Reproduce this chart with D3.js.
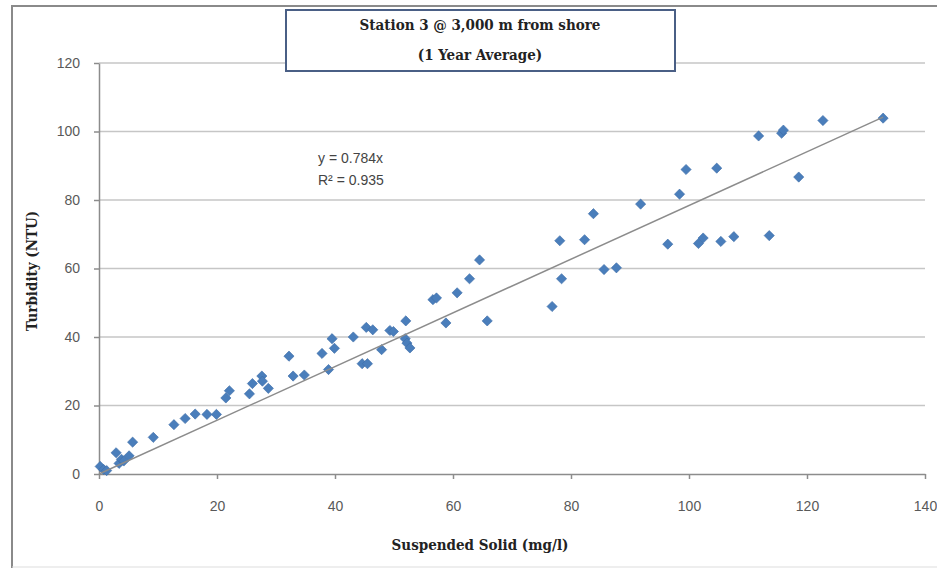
<!DOCTYPE html>
<html>
<head>
<meta charset="utf-8">
<script src="https://cdn.jsdelivr.net/npm/d3@7"></script>
<style>
  body { margin: 0; background: #fff; }
  .tick text { font-family: "Liberation Sans", Arial, sans-serif; font-size: 14px; fill: #595959; }
</style>
</head>
<body>
<script>
// Suspended solid (mg/l) readings
var solids = [0.2, 0.8, 1.3, 2.9, 3.4, 3.8, 4.2, 5.1, 5.7, 9.2, 12.7, 14.6, 16.3, 18.3, 19.9, 21.5, 22.1,
  25.5, 26.0, 27.6, 27.7, 28.7, 32.2, 32.9, 34.8, 37.8, 38.9, 39.5, 39.9, 43.1, 44.6, 45.5, 45.3, 46.4,
  47.9, 49.3, 49.9, 52.0, 51.9, 52.2, 52.7, 56.6, 57.2, 58.8, 60.7, 62.8, 64.5, 65.8,
  76.8, 78.1, 78.4, 82.3, 83.8, 85.6, 87.7, 91.8, 96.4, 98.4, 99.5, 101.6, 102.4, 104.7, 105.4, 107.6,
  111.8, 113.6, 115.7, 116.0, 118.6, 122.7, 132.9];
// Turbidity (NTU) readings, same order
var turbidity = [2.2, 1.3, 1.0, 6.2, 3.1, 4.3, 3.8, 5.3, 9.3, 10.7, 14.4, 16.2, 17.5, 17.4, 17.4, 22.2, 24.3,
  23.4, 26.4, 28.6, 27.1, 25.0, 34.4, 28.6, 28.9, 35.2, 30.5, 39.5, 36.7, 40.0, 32.2, 32.2, 42.8, 42.1,
  36.3, 41.9, 41.6, 44.7, 39.5, 38.2, 36.8, 50.9, 51.4, 44.1, 52.9, 57.0, 62.5, 44.7,
  48.9, 68.1, 57.0, 68.4, 76.0, 59.7, 60.2, 78.8, 67.1, 81.7, 88.9, 67.3, 68.9, 89.3, 67.9, 69.3,
  98.7, 69.6, 99.5, 100.4, 86.7, 103.2, 103.9];
var slope = 0.784;
var xTicks = [0, 20, 40, 60, 80, 100, 120, 140];
var yTicks = [0, 20, 40, 60, 80, 100, 120];
var titleLines = ["Station 3 @ 3,000 m from shore", "(1 Year Average)"];
var xTitle = "Suspended Solid (mg/l)";
var yTitle = "Turbidity (NTU)";
var eqLines = ["y = 0.784x", "R\u00b2 = 0.935"];

var w = 937, h = 570;
var plotLeft = 99, plotRight = 925, plotTop = 63, plotBottom = 474;

var svg = d3.select("body").append("svg")
    .attr("width", w)
    .attr("height", h);

// outer frame (only left/top/bottom edges are visible in the source)
svg.append("path")
    .attr("d", "M12,568 L12,6 L937,6")
    .attr("fill", "none")
    .attr("stroke", "#8a8a8a")
    .attr("stroke-width", 2);
svg.append("line")
    .attr("x1", 12).attr("x2", w).attr("y1", 567).attr("y2", 567)
    .attr("stroke", "#ddd").attr("stroke-width", 1);

var xScale = d3.scaleLinear().domain([0, 140]).range([plotLeft, plotRight]);
var yScale = d3.scaleLinear().domain([0, 120]).range([plotBottom, plotTop]);

// horizontal gridlines
svg.append("g").selectAll("line")
    .data(yTicks.filter(function(d) { return d > 0; }))
    .enter().append("line")
    .attr("x1", plotLeft).attr("x2", plotRight)
    .attr("y1", function(d) { return yScale(d); })
    .attr("y2", function(d) { return yScale(d); })
    .attr("stroke", "#c6c6c6")
    .attr("stroke-width", 1.5);

var xAxis = d3.axisBottom(xScale).tickValues(xTicks).tickSize(5).tickSizeOuter(0).tickPadding(22);
var yAxis = d3.axisLeft(yScale).tickValues(yTicks).tickSize(5).tickSizeOuter(0).tickPadding(14);

var gx = svg.append("g")
    .attr("class", "axis")
    .attr("transform", "translate(0," + plotBottom + ")")
    .call(xAxis);
var gy = svg.append("g")
    .attr("class", "axis")
    .attr("transform", "translate(" + plotLeft + ",0)")
    .call(yAxis);
svg.selectAll(".axis path, .axis line").attr("stroke", "#8c8c8c").attr("stroke-width", 1.5);

// points as square diamonds
var pts = d3.range(solids.length).map(function(i) { return [solids[i], turbidity[i]]; });
svg.append("g").selectAll("path")
    .data(pts)
    .enter().append("path")
    .attr("d", d3.symbol().type(d3.symbolSquare).size(52))
    .attr("transform", function(d) {
        return "translate(" + xScale(d[0]) + "," + yScale(d[1]) + ") rotate(45)";
    })
    .attr("fill", "#4a7ebb")
    .attr("stroke", "#3d6da8")
    .attr("stroke-width", 0.6);

// linear trendline through origin
var xMax = d3.max(solids);
svg.append("line")
    .attr("x1", xScale(0)).attr("y1", yScale(0))
    .attr("x2", xScale(xMax)).attr("y2", yScale(slope * xMax))
    .attr("stroke", "#8c8c8c")
    .attr("stroke-width", 1.5);

// equation label
svg.append("g").selectAll("text")
    .data(eqLines)
    .enter().append("text")
    .attr("x", 318)
    .attr("y", function(d, i) { return 163 + i * 22; })
    .attr("font-family", "Liberation Sans, Arial, sans-serif")
    .attr("font-size", 14)
    .attr("fill", "#444")
    .text(function(d) { return d; });

// title box
svg.append("rect")
    .attr("x", 286).attr("y", 10)
    .attr("width", 389).attr("height", 61)
    .attr("fill", "#fff")
    .attr("stroke", "#4a5f85")
    .attr("stroke-width", 2);
svg.append("g").selectAll("text")
    .data(titleLines)
    .enter().append("text")
    .attr("x", 480)
    .attr("y", function(d, i) { return 30 + i * 30; })
    .attr("text-anchor", "middle")
    .attr("font-family", "DejaVu Serif Condensed, DejaVu Serif, serif")
    .attr("font-weight", "bold")
    .attr("font-size", 15)
    .attr("fill", "#222")
    .text(function(d) { return d; });

// axis titles
svg.append("text")
    .attr("x", 480).attr("y", 550)
    .attr("text-anchor", "middle")
    .attr("font-family", "DejaVu Serif Condensed, DejaVu Serif, serif")
    .attr("font-weight", "bold")
    .attr("font-size", 15)
    .attr("fill", "#222")
    .text(xTitle);
svg.append("text")
    .attr("transform", "translate(37,271) rotate(-90)")
    .attr("text-anchor", "middle")
    .attr("font-family", "DejaVu Serif Condensed, DejaVu Serif, serif")
    .attr("font-weight", "bold")
    .attr("font-size", 15)
    .attr("fill", "#222")
    .text(yTitle);
</script>
</body>
</html>
